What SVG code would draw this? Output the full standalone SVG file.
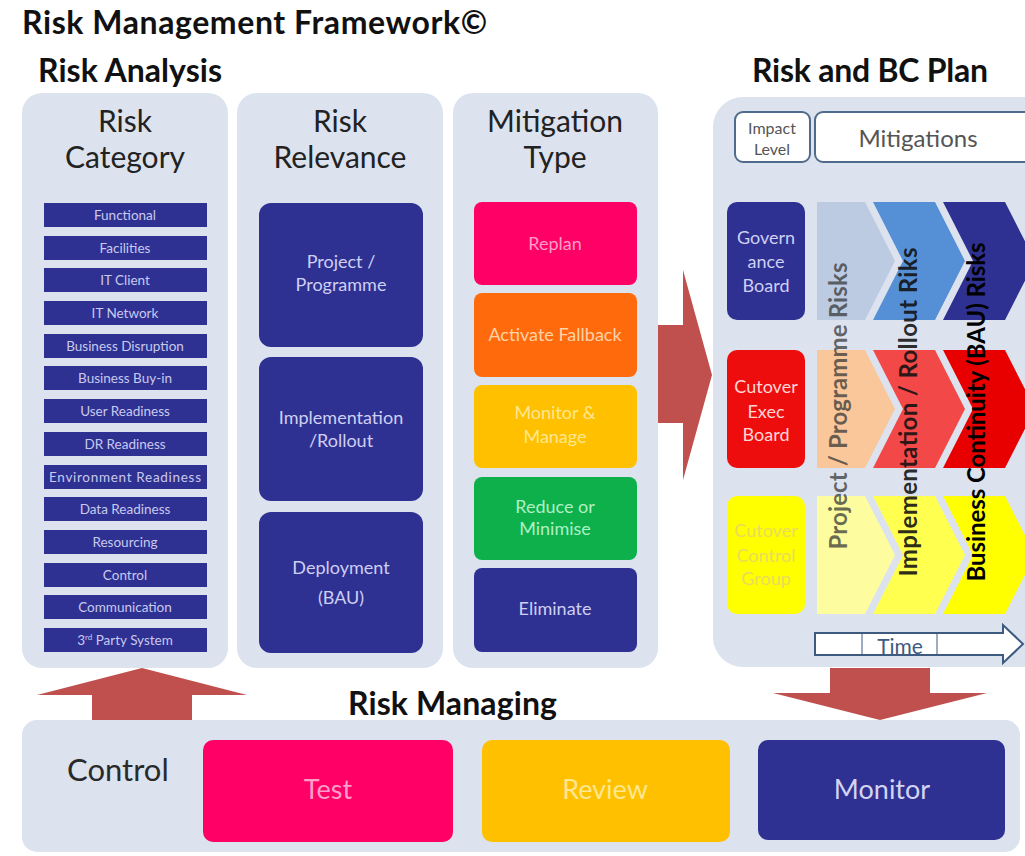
<svg xmlns="http://www.w3.org/2000/svg" width="1025" height="856" viewBox="0 0 1025 856">
  <style>
    text { font-family: Lato, "Liberation Sans", Arial, sans-serif; }
    .h1 { font-size: 32px; font-weight: bold; fill: #111; }
    .col { font-size: 30px; fill: #222; text-anchor: middle; }
    .panel { fill: #dce3ef; }
    .cat { fill: #2e3192; }
    .catt { font-size: 13.5px; fill: #c9c9ee; text-anchor: middle; }
    .box { font-size: 18px; text-anchor: middle; }
    .navy { fill: #2e3192; }
    .navyt { fill: #cfcff2; }
    .arrow { fill: #c0504d; }
    .vert { font-size: 24px; font-weight: bold; text-anchor: middle; }
    .hdr { fill: #fff; stroke: #4f6b8c; stroke-width: 2; }
    .big { font-size: 27px; text-anchor: middle; }
  </style>
  <defs>
    <!-- chevron shapes, 118px tall, placed per row with a translate -->
    <path id="chev1" d="M817,0 L865,0 L895,59 L865,118 L817,118 Z"/>
    <path id="chev2" d="M873,0 L935,0 L965,59 L935,118 L873,118 L903,59 Z"/>
    <path id="chev3" d="M943,0 L1005,0 L1035,59 L1005,118 L943,118 L973,59 Z"/>
  </defs>

  <rect width="1025" height="856" fill="#fff"/>

  <!-- headings -->
  <text class="h1" x="22" y="34" textLength="465">Risk Management Framework©</text>
  <text class="h1" x="38" y="82" textLength="184">Risk Analysis</text>
  <text class="h1" x="752" y="82" textLength="236">Risk and BC Plan</text>
  <text class="h1" x="348" y="715" textLength="209">Risk Managing</text>

  <!-- connectors: block arrows -->
  <g id="connectors">
    <polygon class="arrow" points="658,325 683,325 683,270 712,375 683,480 683,423 658,423"/>
    <polygon class="arrow" points="92,720 92,695 37,695 142,668 247,695 192,695 192,720"/>
    <polygon class="arrow" points="830,668 930,668 930,693 987,693 880,720 773,693 830,693"/>
  </g>

  <!-- Risk Category column -->
  <g id="risk-category">
    <rect class="panel" x="22" y="93" width="206" height="575" rx="20"/>
    <text class="col" x="125" y="132">Risk</text>
    <text class="col" x="125" y="168">Category</text>
    <rect class="cat" x="44" y="203" width="163" height="24"/>
    <text class="catt" x="125" y="220">Functional</text>
    <rect class="cat" x="44" y="236" width="163" height="24"/>
    <text class="catt" x="125" y="253">Facilities</text>
    <rect class="cat" x="44" y="268" width="163" height="24"/>
    <text class="catt" x="125" y="285">IT Client</text>
    <rect class="cat" x="44" y="301" width="163" height="24"/>
    <text class="catt" x="125" y="318">IT Network</text>
    <rect class="cat" x="44" y="334" width="163" height="24"/>
    <text class="catt" x="125" y="351">Business Disruption</text>
    <rect class="cat" x="44" y="366" width="163" height="24"/>
    <text class="catt" x="125" y="383">Business Buy-in</text>
    <rect class="cat" x="44" y="399" width="163" height="24"/>
    <text class="catt" x="125" y="416">User Readiness</text>
    <rect class="cat" x="44" y="432" width="163" height="24"/>
    <text class="catt" x="125" y="449">DR Readiness</text>
    <rect class="cat" x="44" y="465" width="163" height="24"/>
    <text class="catt" x="125" y="482" textLength="152">Environment  Readiness</text>
    <rect class="cat" x="44" y="497" width="163" height="24"/>
    <text class="catt" x="125" y="514">Data Readiness</text>
    <rect class="cat" x="44" y="530" width="163" height="24"/>
    <text class="catt" x="125" y="547">Resourcing</text>
    <rect class="cat" x="44" y="563" width="163" height="24"/>
    <text class="catt" x="125" y="580">Control</text>
    <rect class="cat" x="44" y="595" width="163" height="24"/>
    <text class="catt" x="125" y="612">Communication</text>
    <rect class="cat" x="44" y="628" width="163" height="24"/>
    <text class="catt" x="125" y="645">3<tspan font-size="8" dy="-5">rd</tspan><tspan dy="5"> Party System</tspan></text>
  </g>

  <!-- Risk Relevance column -->
  <g id="risk-relevance">
    <rect class="panel" x="237" y="93" width="206" height="575" rx="20"/>
    <text class="col" x="340" y="132">Risk</text>
    <text class="col" x="340" y="168">Relevance</text>
    <rect class="navy" x="259" y="203" width="164" height="144" rx="12"/>
    <text class="box navyt" x="341" y="268">Project /</text>
    <text class="box navyt" x="341" y="291">Programme</text>
    <rect class="navy" x="259" y="357" width="164" height="144" rx="12"/>
    <text class="box navyt" x="341" y="424">Implementation</text>
    <text class="box navyt" x="341" y="447">/Rollout</text>
    <rect class="navy" x="259" y="512" width="164" height="141" rx="12"/>
    <text class="box navyt" x="341" y="574">Deployment</text>
    <text class="box navyt" x="341" y="604">(BAU)</text>
  </g>

  <!-- Mitigation Type column -->
  <g id="mitigation-type">
    <rect class="panel" x="453" y="93" width="205" height="575" rx="20"/>
    <text class="col" x="555" y="132">Mitigation</text>
    <text class="col" x="555" y="168">Type</text>
    <rect x="474" y="202" width="163" height="83" rx="8" fill="#ff0066"/>
    <text class="box" x="555" y="250" fill="#ff9cc8">Replan</text>
    <rect x="474" y="293" width="163" height="84" rx="8" fill="#ff6a0c"/>
    <text class="box" x="555" y="341" fill="#ffd2a8">Activate Fallback</text>
    <rect x="474" y="385" width="163" height="83" rx="8" fill="#ffc000"/>
    <text class="box" x="555" y="419" fill="#ffe78f">Monitor &amp;</text>
    <text class="box" x="555" y="443" fill="#ffe78f">Manage</text>
    <rect x="474" y="477" width="163" height="83" rx="8" fill="#0db04b"/>
    <text class="box" x="555" y="513" fill="#aef0c4">Reduce or</text>
    <text class="box" x="555" y="535" fill="#aef0c4">Minimise</text>
    <rect x="474" y="568" width="163" height="84" rx="8" fill="#2e3192"/>
    <text class="box navyt" x="555" y="615">Eliminate</text>
  </g>

  <!-- Risk and BC Plan -->
  <g id="bc-plan">
    <rect class="panel" x="713" y="97" width="340" height="570" rx="30"/>
    <rect class="hdr" x="735" y="112" width="75" height="50" rx="8"/>
    <text x="772" y="134" font-size="16" fill="#555" text-anchor="middle">Impact</text>
    <text x="772" y="155" font-size="16" fill="#555" text-anchor="middle">Level</text>
    <rect class="hdr" x="815" y="112" width="222" height="50" rx="8"/>
    <text x="918" y="147" font-size="24" fill="#555" text-anchor="middle">Mitigations</text>

    <!-- governance row -->
    <g id="row-governance">
      <rect class="navy" x="727" y="202" width="78" height="118" rx="10"/>
      <text class="box navyt" x="766" y="244">Govern</text>
      <text class="box navyt" x="766" y="268">ance</text>
      <text class="box navyt" x="766" y="292">Board</text>
      <use href="#chev1" transform="translate(0,202)" fill="#bccbe2"/>
      <use href="#chev2" transform="translate(0,202)" fill="#5590d6"/>
      <use href="#chev3" transform="translate(0,202)" fill="#2e3192"/>
    </g>

    <!-- exec row -->
    <g id="row-exec">
      <rect x="727" y="350" width="78" height="118" rx="10" fill="#ee0d0d"/>
      <text class="box" x="766" y="393" fill="#ffd6d6">Cutover</text>
      <text class="box" x="766" y="418" fill="#ffd6d6">Exec</text>
      <text class="box" x="766" y="441" fill="#ffd6d6">Board</text>
      <use href="#chev1" transform="translate(0,350)" fill="#f9c79a"/>
      <use href="#chev2" transform="translate(0,350)" fill="#f24848"/>
      <use href="#chev3" transform="translate(0,350)" fill="#e80000"/>
    </g>

    <!-- control row -->
    <g id="row-control">
      <rect x="727" y="496" width="78" height="118" rx="10" fill="#ffff00"/>
      <text class="box" x="766" y="537" fill="#e8dc5a">Cutover</text>
      <text class="box" x="766" y="562" fill="#e8dc5a">Control</text>
      <text class="box" x="766" y="585" fill="#e8dc5a">Group</text>
      <use href="#chev1" transform="translate(0,496)" fill="#fdfda0"/>
      <use href="#chev2" transform="translate(0,496)" fill="#ffff50"/>
      <use href="#chev3" transform="translate(0,496)" fill="#ffff00"/>
    </g>

    <!-- vertical phase labels -->
    <text class="vert" transform="translate(838,406) rotate(-90)" dy="0.36em" fill="#333" fill-opacity="0.72" textLength="287">Project / Programme Risks</text>
    <text class="vert" transform="translate(908,412) rotate(-90)" dy="0.36em" fill="#111" fill-opacity="0.9" textLength="329">Implementation / Rollout Riks</text>
    <text class="vert" transform="translate(976,412) rotate(-90)" dy="0.36em" fill="#000" textLength="339">Business Continuity (BAU) Risks</text>

    <!-- time arrow -->
    <polygon points="815,633 1003,633 1003,625 1023,644 1003,663 1003,655 815,655" fill="#fff" stroke="#3d5a80" stroke-width="2"/>
    <line x1="862" y1="633" x2="862" y2="655" stroke="#3d5a80" stroke-width="1"/>
    <line x1="937" y1="633" x2="937" y2="655" stroke="#3d5a80" stroke-width="1"/>
    <text x="900" y="654" font-size="21" fill="#3d5a80" text-anchor="middle">Time</text>
  </g>

  <!-- Risk Managing strip -->
  <g id="risk-managing">
    <rect class="panel" x="22" y="720" width="998" height="132" rx="15"/>
    <text x="67" y="781" font-size="31" fill="#2a2a2a">Control</text>
    <rect x="203" y="740" width="250" height="102" rx="10" fill="#ff0066"/>
    <text class="big" x="328" y="799" fill="#ff9cc8">Test</text>
    <rect x="482" y="740" width="248" height="102" rx="10" fill="#ffc000"/>
    <text class="big" x="605" y="799" fill="#ffe78f">Review</text>
    <rect x="758" y="740" width="247" height="100" rx="10" fill="#2e3192"/>
    <text class="big" x="882" y="799" fill="#d4d4f2">Monitor</text>
  </g>
</svg>
